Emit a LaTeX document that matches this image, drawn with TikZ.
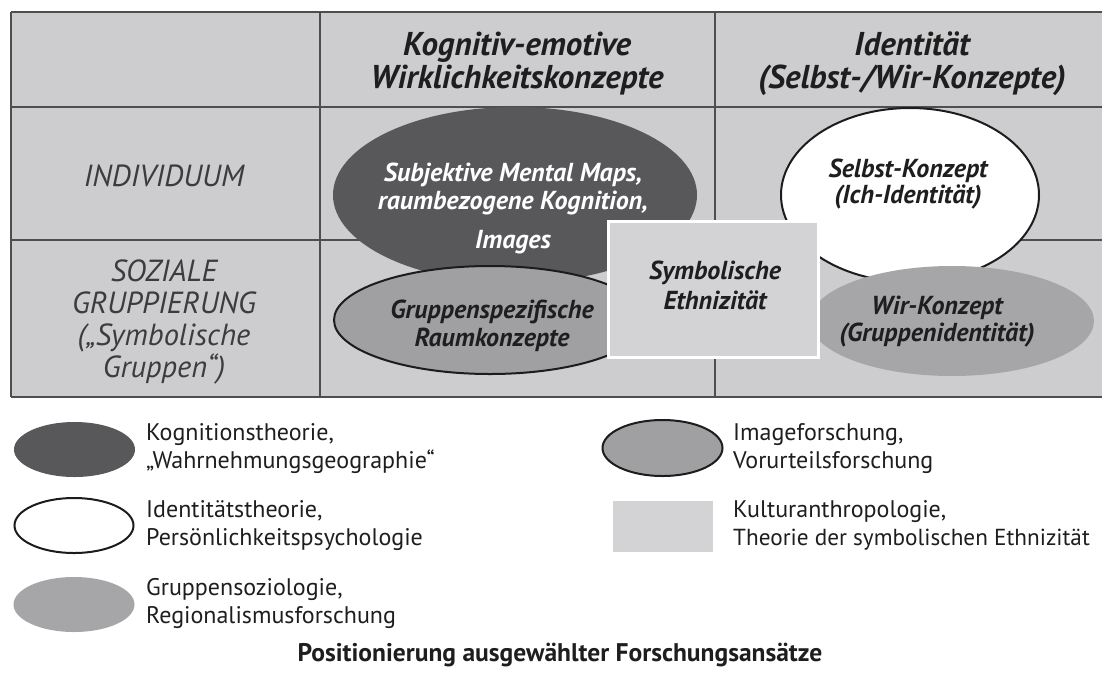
\documentclass[tikz,border=0pt]{standalone}
\usepackage{fontspec}
\setmainfont{PT Sans}
\usetikzlibrary{shapes.geometric}
\definecolor{tablebg}{HTML}{CDCDCF}
\definecolor{boxbg}{HTML}{D3D3D5}
\definecolor{darkfill}{HTML}{58585A}
\definecolor{midfill}{HTML}{A0A0A2}
\definecolor{lightfill}{HTML}{A6A6A8}
\definecolor{gridcol}{HTML}{4E4E50}
\definecolor{outl}{HTML}{1C1C1C}
\definecolor{txt}{HTML}{1E1E1E}
\definecolor{txtlight}{HTML}{3C3C3C}
\tikzset{
  gridline/.style={draw=gridcol, line width=2pt},
  ell/.style={ellipse, inner sep=0pt},
  hdr/.style={font=\bfseries\itshape\fontsize{33}{36}\selectfont, text=txt, anchor=base, inner sep=0pt},
  rowlbl/.style={font=\itshape\fontsize{30.5}{33}\selectfont, text=txtlight, anchor=base, inner sep=0pt},
  elltxt/.style={font=\bfseries\itshape\fontsize{26}{28}\selectfont, text=txt, anchor=base, inner sep=0pt},
  legtxt/.style={font=\fontsize{24}{27}\selectfont, text=txt, anchor=base west, inner sep=0pt},
  ttltxt/.style={font=\bfseries\fontsize{25.5}{28}\selectfont, text=txt, anchor=base, inner sep=0pt}
}
\begin{document}
\begin{tikzpicture}[x=1pt,y=-1pt]
\useasboundingbox (0,0) rectangle (1102,673);
\fill[white] (0,0) rectangle (1102,673);
% table
\fill[tablebg] (11,12) rectangle (1115,397);
\draw[gridline] (11,12) -- (1115,12);
\draw[gridline] (11,107) -- (1115,107);
\draw[gridline] (11,240) -- (1115,240);
\draw[gridline] (11,397) -- (1115,397);
\draw[gridline] (11,12) -- (11,397);
\draw[gridline] (320,12) -- (320,397);
\draw[gridline] (715,12) -- (715,397);
% headers
\node[hdr] (h1a) at (517,55) {Kognitiv-emotive};
\node[hdr] (h1b) at (517,88) {Wirklichkeitskonzepte};
\node[hdr] (h2a) at (912,55) {Identität};
\node[hdr] (h2b) at (912,88) {(Selbst-/Wir-Konzepte)};
% row labels
\node[rowlbl] (r1) at (164,186) {INDIVIDUUM};
\node[rowlbl] (r2a) at (164,281) {SOZIALE};
\node[rowlbl] (r2b) at (164,313) {GRUPPIERUNG};
\node[rowlbl] (r2c) at (164,345) {(„Symbolische};
\node[rowlbl] (r2d) at (164,377) {Gruppen“)};
% ellipses
\node[ell, fill=darkfill, minimum width=364pt, minimum height=176pt] (mental) at (515,195) {};
\node[ell, fill=midfill, draw=outl, line width=2pt, minimum width=312pt, minimum height=108pt] (grp) at (490,320) {};
\node[ell, fill=white, draw=outl, line width=2pt, minimum width=258pt, minimum height=174pt] (selbst) at (910,195) {};
\node[ell, fill=lightfill, minimum width=284pt, minimum height=110pt] (wir) at (952,321) {};
\node[rectangle, fill=boxbg, draw=white, line width=3pt, minimum width=210pt, minimum height=136pt, inner sep=0pt] (sym) at (713,289) {};
% ellipse texts
\node[elltxt, text=white] (m1) at (513,181) {Subjektive Mental Maps,};
\node[elltxt, text=white] (m2) at (513,209) {raumbezogene Kognition,};
\node[elltxt, text=white] (m3) at (513,248) {Images};
\node[elltxt] (g1) at (492,318) {Gruppenspezifische};
\node[elltxt] (g2) at (492,346) {Raumkonzepte};
\node[elltxt] (s1) at (908,177) {Selbst-Konzept};
\node[elltxt] (s2) at (908,203) {(Ich-Identität)};
\node[elltxt] (w1) at (937,314) {Wir-Konzept};
\node[elltxt] (w2) at (937,341) {(Gruppenidentität)};
\node[elltxt] (e1) at (715,279) {Symbolische};
\node[elltxt] (e2) at (715,309) {Ethnizität};
% legend
\node[ell, fill=darkfill, minimum width=121pt, minimum height=55pt] (lg1) at (74.5,449.5) {};
\node[ell, fill=white, draw=outl, line width=2pt, minimum width=119pt, minimum height=55pt] (lg2) at (74,525.5) {};
\node[ell, fill=lightfill, minimum width=121pt, minimum height=55pt] (lg3) at (74,604.5) {};
\node[ell, fill=midfill, draw=outl, line width=2pt, minimum width=120pt, minimum height=56pt] (lg4) at (662.5,448) {};
\node[rectangle, fill=boxbg, minimum width=100pt, minimum height=51pt, inner sep=0pt] (lg5) at (663,526.5) {};
\node[legtxt] (t1a) at (146,440) {Kognitionstheorie,};
\node[legtxt] (t1b) at (146,468) {„Wahrnehmungsgeographie“};
\node[legtxt] (t2a) at (146,517) {Identitätstheorie,};
\node[legtxt] (t2b) at (146,545) {Persönlichkeitspsychologie};
\node[legtxt] (t3a) at (146,595) {Gruppensoziologie,};
\node[legtxt] (t3b) at (146,623) {Regionalismusforschung};
\node[legtxt] (t4a) at (733,440) {Imageforschung,};
\node[legtxt] (t4b) at (733,468) {Vorurteilsforschung};
\node[legtxt] (t5a) at (733,517) {Kulturanthropologie,};
\node[legtxt, font=\fontsize{23.2}{27}\selectfont] (t5b) at (733,545) {Theorie der symbolischen Ethnizität};
% title
\node[ttltxt] (ttl) at (560,661) {Positionierung ausgewählter Forschungsansätze};
\end{tikzpicture}
\end{document}
